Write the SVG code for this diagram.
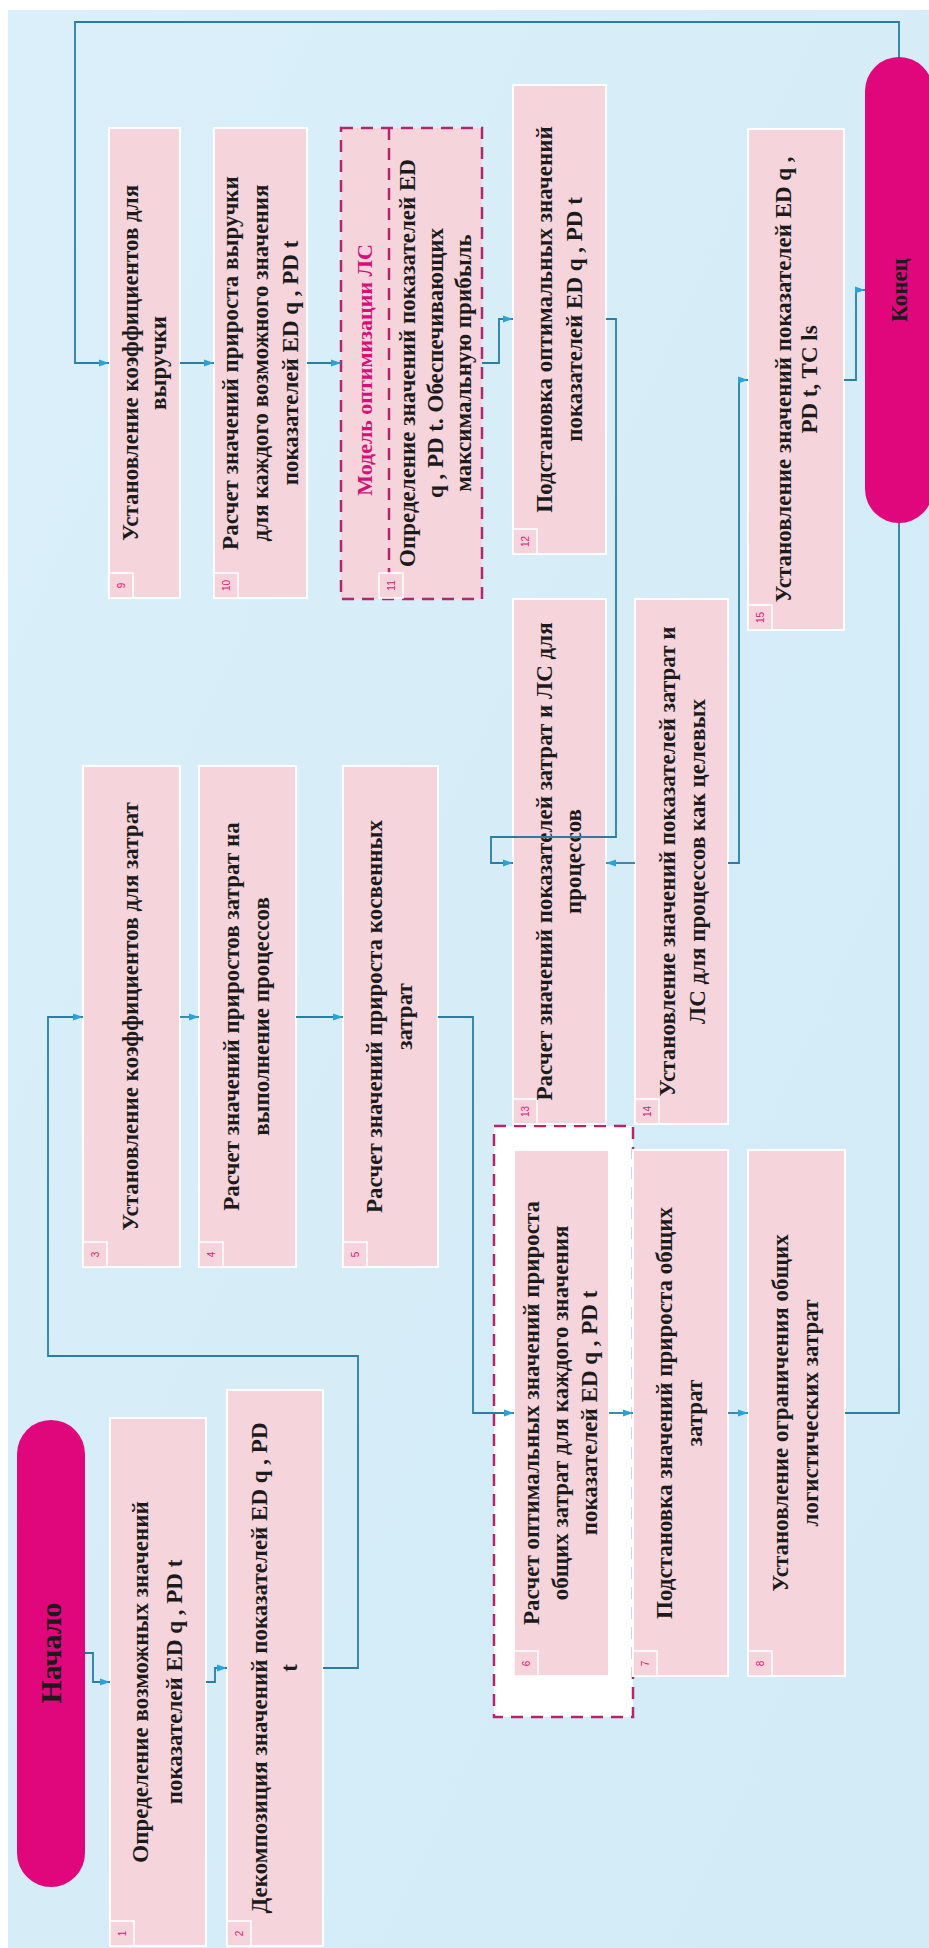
<svg xmlns="http://www.w3.org/2000/svg" width="929" height="1948" viewBox="0 0 929 1948">
<defs>
<linearGradient id="bg" x1="0" y1="0" x2="1" y2="1">
<stop offset="0" stop-color="#daeff9"/>
<stop offset="1" stop-color="#d2ebf7"/>
</linearGradient>
<marker id="arr" markerUnits="userSpaceOnUse" markerWidth="11" markerHeight="8" refX="10" refY="4" orient="auto">
<path d="M0,0.5 L10,4 L0,7.5 z" fill="#2aa2d8"/>
</marker>
<style>
.box{fill:#f5d4db;stroke:#ffffff;stroke-width:2}
.num{fill:#f5d4db;stroke:#ffffff;stroke-width:1.5}
.numt{font-family:"Liberation Sans",Arial,sans-serif;font-size:10px;fill:#d81b7a;text-anchor:middle}
.t{font-family:"Liberation Serif","Times New Roman",serif;font-weight:bold;font-size:23px;fill:#1b1b1b;text-anchor:middle}
.dash{fill:none;stroke:#b3266e;stroke-width:2.5;stroke-dasharray:12 8}
.pill{fill:#e0067c}
.pt{font-family:"Liberation Serif","Times New Roman",serif;font-weight:bold;fill:#1b1b1b;text-anchor:middle}
.c{fill:none;stroke:#2b7ea1;stroke-width:1.8}
.ca{fill:none;stroke:#2b7ea1;stroke-width:1.8;marker-end:url(#arr)}
.title{font-family:"Liberation Serif","Times New Roman",serif;font-weight:bold;font-size:22px;fill:#d4107a;text-anchor:middle}
</style>
</defs>
<rect x="0" y="0" width="929" height="1948" fill="#ffffff"/>
<rect x="8" y="10" width="921" height="1938" fill="url(#bg)"/>

<g id="start">
<rect class="pill" x="17" y="1420" width="68" height="467" rx="34" ry="34"/>
<text class="pt" font-size="30" transform="translate(51,1653) rotate(-90)" x="0" y="10">Начало</text>
</g>

<g id="n1">
<rect class="box" x="110" y="1418" width="96" height="528"/>
<rect class="num" x="110" y="1921" width="24" height="25"/>
<text class="numt" transform="translate(122,1933.5) rotate(-90)" y="3.5">1</text>
<text class="t" transform="translate(158,1682) rotate(-90)"><tspan x="0" y="-10">Определение возможных значений</tspan><tspan x="0" y="24">показателей ED q , PD t</tspan></text>
</g>

<g id="n2">
<rect class="box" x="227" y="1390" width="96" height="556"/>
<rect class="num" x="227" y="1921" width="24" height="25"/>
<text class="numt" transform="translate(239,1933.5) rotate(-90)" y="3.5">2</text>
<text class="t" transform="translate(275,1668) rotate(-90)"><tspan x="0" y="-8">Декомпозиция значений показателей ED q , PD</tspan><tspan x="0" y="22">t</tspan></text>
</g>

<g id="n3">
<rect class="box" x="83" y="766" width="97" height="501"/>
<rect class="num" x="83" y="1242" width="24" height="25"/>
<text class="numt" transform="translate(95,1254.5) rotate(-90)" y="3.5">3</text>
<text class="t" transform="translate(131.5,1016.5) rotate(-90)"><tspan x="0" y="6">Установление коэффициентов для затрат</tspan></text>
</g>

<g id="n4">
<rect class="box" x="199" y="766" width="97" height="501"/>
<rect class="num" x="199" y="1242" width="24" height="25"/>
<text class="numt" transform="translate(211,1254.5) rotate(-90)" y="3.5">4</text>
<text class="t" transform="translate(247.5,1016.5) rotate(-90)"><tspan x="0" y="-9">Расчет значений приростов затрат на</tspan><tspan x="0" y="21">выполнение процессов</tspan></text>
</g>

<g id="n5">
<rect class="box" x="343" y="766" width="95" height="501"/>
<rect class="num" x="343" y="1242" width="24" height="25"/>
<text class="numt" transform="translate(355,1254.5) rotate(-90)" y="3.5">5</text>
<text class="t" transform="translate(390.5,1016.5) rotate(-90)"><tspan x="0" y="-9">Расчет значений прироста косвенных</tspan><tspan x="0" y="21">затрат</tspan></text>
</g>

<g id="n6">
<rect x="494" y="1126" width="139" height="591" fill="#ffffff"/>
<rect class="dash" x="494" y="1126" width="139" height="591"/>
<rect class="box" x="514" y="1150" width="95" height="526"/>
<rect class="num" x="514" y="1651" width="24" height="25"/>
<text class="numt" transform="translate(526,1663.5) rotate(-90)" y="3.5">6</text>
<text class="t" transform="translate(561.5,1413) rotate(-90)"><tspan x="0" y="-23">Расчет оптимальных значений прироста</tspan><tspan x="0" y="6">общих затрат для каждого значения</tspan><tspan x="0" y="35">показателей ED q , PD t</tspan></text>
</g>

<g id="n7">
<rect class="box" x="633" y="1150" width="95" height="526"/>
<rect class="num" x="633" y="1651" width="24" height="25"/>
<text class="numt" transform="translate(645,1663.5) rotate(-90)" y="3.5">7</text>
<text class="t" transform="translate(680.5,1413) rotate(-90)"><tspan x="0" y="-9">Подстановка значений прироста общих</tspan><tspan x="0" y="21">затрат</tspan></text>
</g>

<g id="n8">
<rect class="box" x="748" y="1150" width="97" height="526"/>
<rect class="num" x="748" y="1651" width="24" height="25"/>
<text class="numt" transform="translate(760,1663.5) rotate(-90)" y="3.5">8</text>
<text class="t" transform="translate(796.5,1413) rotate(-90)"><tspan x="0" y="-9">Установление ограничения общих</tspan><tspan x="0" y="21">логистических затрат</tspan></text>
</g>

<g id="n9">
<rect class="box" x="109" y="128" width="71" height="470"/>
<rect class="num" x="109" y="573" width="24" height="25"/>
<text class="numt" transform="translate(121,585.5) rotate(-90)" y="3.5">9</text>
<text class="t" transform="translate(144.5,363) rotate(-90)"><tspan x="0" y="-7">Установление коэффициентов для</tspan><tspan x="0" y="21">выручки</tspan></text>
</g>

<g id="n10">
<rect class="box" x="214" y="128" width="93" height="470"/>
<rect class="num" x="214" y="573" width="24" height="25"/>
<text class="numt" transform="translate(226,585.5) rotate(-90)" y="3.5">10</text>
<text class="t" transform="translate(260.5,363) rotate(-90)"><tspan x="0" y="-23">Расчет значений прироста выручки</tspan><tspan x="0" y="7">для каждого возможного значения</tspan><tspan x="0" y="37">показателей ED q , PD t</tspan></text>
</g>

<g id="n11">
<rect x="341" y="128" width="141" height="471" fill="#f5d4db"/>
<rect class="dash" x="341" y="128" width="141" height="471"/>
<line class="dash" x1="389" y1="128" x2="389" y2="573"/>
<rect class="num" x="379" y="573" width="24" height="25"/>
<text class="numt" transform="translate(391,585.5) rotate(-90)" y="3.5">11</text>
<text class="title" transform="translate(365,370) rotate(-90)" y="7">Модель оптимизации ЛС</text>
<text class="t" transform="translate(436,363) rotate(-90)"><tspan x="0" y="-21">Определение значений показателей ED</tspan><tspan x="0" y="7">q , PD t. Обеспечивающих</tspan><tspan x="0" y="35">максимальную прибыль</tspan></text>
</g>

<g id="n12">
<rect class="box" x="513" y="85" width="93" height="469"/>
<rect class="num" x="513" y="529" width="24" height="25"/>
<text class="numt" transform="translate(525,541.5) rotate(-90)" y="3.5">12</text>
<text class="t" transform="translate(559.5,319.5) rotate(-90)"><tspan x="0" y="-8">Подстановка оптимальных значений</tspan><tspan x="0" y="22">показателей ED q , PD t</tspan></text>
</g>

<g id="n13">
<rect class="box" x="513" y="599" width="93" height="525"/>
<rect class="num" x="513" y="1099" width="24" height="25"/>
<text class="numt" transform="translate(525,1111.5) rotate(-90)" y="3.5">13</text>
<text class="t" transform="translate(559.5,861.5) rotate(-90)"><tspan x="0" y="-8">Расчет значений показателей затрат и ЛС для</tspan><tspan x="0" y="21">процессов</tspan></text>
</g>

<g id="n14">
<rect class="box" x="635" y="599" width="93" height="525"/>
<rect class="num" x="635" y="1099" width="24" height="25"/>
<text class="numt" transform="translate(647,1111.5) rotate(-90)" y="3.5">14</text>
<text class="t" transform="translate(681.5,861.5) rotate(-90)"><tspan x="0" y="-7">Установление значений показателей затрат и</tspan><tspan x="0" y="23">ЛС для процессов как целевых</tspan></text>
</g>

<g id="n15">
<rect class="box" x="748" y="129" width="96" height="501"/>
<rect class="num" x="748" y="605" width="24" height="25"/>
<text class="numt" transform="translate(760,617.5) rotate(-90)" y="3.5">15</text>
<text class="t" transform="translate(796,379.5) rotate(-90)"><tspan x="0" y="-5">Установление значений показателей ED q ,</tspan><tspan x="0" y="21">PD t, TC ls</tspan></text>
</g>

<g id="connectors">
<path class="ca" d="M85,1653 H93 V1682 H110"/>
<path class="ca" d="M206,1682 H215 V1668 H227"/>
<path class="ca" d="M323,1668 H358 V1356 H48 V1017 H83"/>
<path class="ca" d="M180,1017 H199"/>
<path class="ca" d="M296,1017 H343"/>
<path class="ca" d="M438,1017 H473 V1413 H514"/>
<path class="ca" d="M609,1413 H633"/>
<path class="ca" d="M728,1413 H748"/>
<path class="ca" d="M845,1413 H899 V22 H75 V363 H109"/>
<path class="ca" d="M180,363 H214"/>
<path class="ca" d="M307,363 H341"/>
<path class="ca" d="M482,363 H499 V319 H513"/>
<path class="ca" d="M606,319 H616 V837 H491 V863 H513"/>
<path class="ca" d="M635,863 H606"/>
<path class="ca" d="M728,863 H739 V380 H748"/>
<path class="ca" d="M844,380 H856 V290 H865"/>
</g>

<g id="end">
<rect class="pill" x="865" y="57" width="68" height="466" rx="34" ry="34"/>
<text class="pt" font-size="23" transform="translate(899,290) rotate(-90)" x="0" y="8">Конец</text>
</g>
</svg>
